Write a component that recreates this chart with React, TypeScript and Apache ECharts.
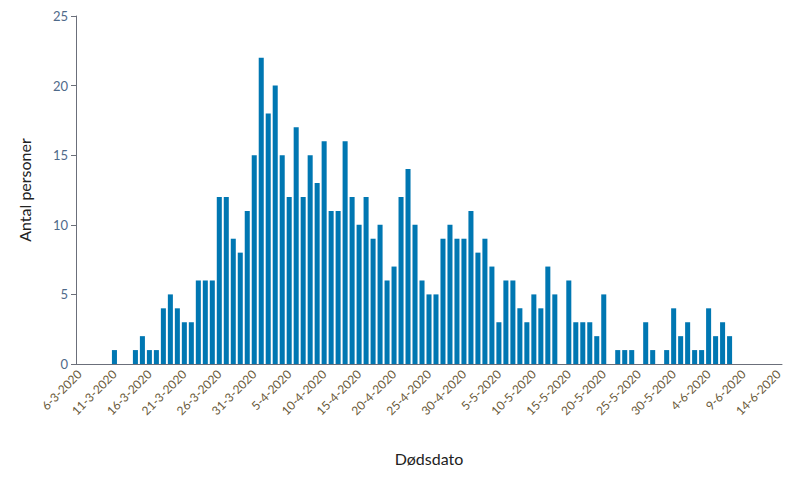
import { useEffect, useRef } from "react";
import * as echarts from "echarts";

const startDate = new Date(2020, 2, 6);
const dayCount = 101;
const dates: string[] = Array.from({ length: dayCount }, (_, i) => {
  const d = new Date(startDate.getFullYear(), startDate.getMonth(), startDate.getDate() + i);
  return `${d.getDate()}-${d.getMonth() + 1}-${d.getFullYear()}`;
});

// deaths per day from 6-3-2020
const deaths: number[] = [
  0, 0, 0, 0, 0, 1, 0, 0, 1, 2, 1, 1, 4, 5, 4, 3, 3, 6, 6, 6,
  12, 12, 9, 8, 11, 15, 22, 18, 20, 15, 12, 17, 12, 15, 13, 16, 11, 11, 16, 12,
  10, 12, 9, 10, 6, 7, 12, 14, 10, 6, 5, 5, 9, 10, 9, 9, 11, 8, 9, 7,
  3, 6, 6, 4, 3, 5, 4, 7, 5, 0, 6, 3, 3, 3, 2, 5, 0, 1, 1, 1,
  0, 3, 1, 0, 1, 4, 2, 3, 1, 1, 4, 2, 3, 2,
];
const values = dates.map((_, i) => deaths[i] ?? 0);

const yTicks = [0, 5, 10, 15, 20, 25];

export default function App() {
  const ref = useRef<HTMLDivElement>(null);

  useEffect(() => {
    if (!ref.current) return;
    const chart = echarts.init(ref.current, null, { renderer: "svg" });
    const font = "Lato, 'DejaVu Sans', sans-serif";
    chart.setOption({
      animation: false,
      grid: { left: 67, right: 10, top: 8, bottom: 108 },
      xAxis: {
        type: "category",
        data: dates,
        name: "Dødsdato",
        nameLocation: "middle",
        nameGap: 86,
        nameTextStyle: { fontFamily: font, fontSize: 16, color: "#222" },
        axisLine: { lineStyle: { color: "#6b6f7a" } },
        axisTick: { alignWithLabel: true, interval: 4, lineStyle: { color: "#6b6f7a" } },
        axisLabel: { interval: 4, rotate: 45, fontFamily: font, fontSize: 12, color: "#6a5a3a" },
      },
      yAxis: {
        type: "value",
        min: yTicks[0],
        max: yTicks[yTicks.length - 1],
        interval: 5,
        name: "Antal personer",
        nameLocation: "middle",
        nameGap: 44,
        nameTextStyle: { fontFamily: font, fontSize: 16, color: "#222" },
        axisLine: { show: true, lineStyle: { color: "#6b6f7a" } },
        axisTick: { show: true, lineStyle: { color: "#6b6f7a" } },
        splitLine: { show: false },
        axisLabel: { fontFamily: font, fontSize: 13, color: "#4f6a8a" },
      },
      series: [
        {
          type: "bar",
          data: values,
          barCategoryGap: "28%",
          itemStyle: { color: "#0077b2" },
        },
      ],
    });
    return () => chart.dispose();
  }, []);

  return <div ref={ref} style={{ width: 784, height: 464 }} />;
}
